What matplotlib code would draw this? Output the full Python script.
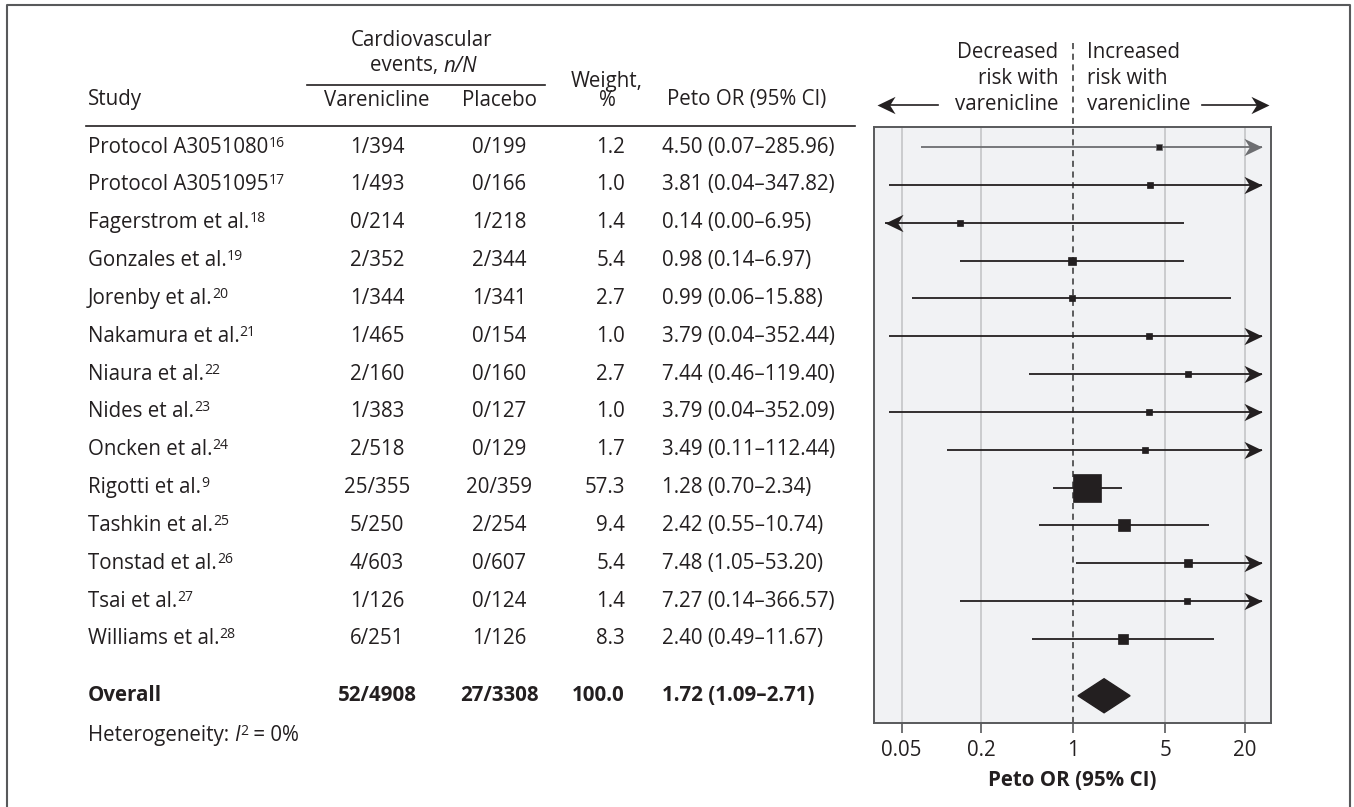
import numpy as np
import matplotlib.pyplot as plt
from matplotlib.patches import Polygon
from matplotlib.path import Path

plt.rcParams['font.family'] = ['Open Sans', 'DejaVu Sans']

# study rows
studies = ['Protocol A3051080', 'Protocol A3051095', 'Fagerstrom et al.', 'Gonzales et al.',
           'Jorenby et al.', 'Nakamura et al.', 'Niaura et al.', 'Nides et al.',
           'Oncken et al.', 'Rigotti et al.', 'Tashkin et al.', 'Tonstad et al.',
           'Tsai et al.', 'Williams et al.']
refs = ['16', '17', '18', '19', '20', '21', '22', '23', '24', '9', '25', '26', '27', '28']
var_events = ['1/394', '1/493', '0/214', '2/352', '1/344', '1/465', '2/160', '1/383',
              '2/518', '25/355', '5/250', '4/603', '1/126', '6/251']
pla_events = ['0/199', '0/166', '1/218', '2/344', '1/341', '0/154', '0/160', '0/127',
              '0/129', '20/359', '2/254', '0/607', '0/124', '1/126']
weights = [1.2, 1.0, 1.4, 5.4, 2.7, 1.0, 2.7, 1.0, 1.7, 57.3, 9.4, 5.4, 1.4, 8.3]
odds = [4.50, 3.81, 0.14, 0.98, 0.99, 3.79, 7.44, 3.79, 3.49, 1.28, 2.42, 7.48, 7.27, 2.40]
ci_lo = [0.07, 0.04, 0.00, 0.14, 0.06, 0.04, 0.46, 0.04, 0.11, 0.70, 0.55, 1.05, 0.14, 0.49]
ci_hi = [285.96, 347.82, 6.95, 6.97, 15.88, 352.44, 119.40, 352.09, 112.44, 2.34, 10.74,
         53.20, 366.57, 11.67]

# pooled result
overall_var = '52/4908'
overall_pla = '27/3308'
overall_weight = 100.0
overall_or = 1.72
overall_lo = 1.09
overall_hi = 2.71

xticks = [0.05, 0.2, 1, 5, 20]
xtick_labels = ['0.05', '0.2', '1', '5', '20']

W, H = 1354, 807
ink = '#231f20'
fs = 14.8

# stealth arrow heads with the tip at the origin
head_r = Path([(0, 0), (-1, 0.48), (-0.7, 0), (-1, -0.48), (0, 0)],
              [Path.MOVETO, Path.LINETO, Path.LINETO, Path.LINETO, Path.CLOSEPOLY])
head_l = Path([(0, 0), (1, 0.48), (0.7, 0), (1, -0.48), (0, 0)],
              [Path.MOVETO, Path.LINETO, Path.LINETO, Path.LINETO, Path.CLOSEPOLY])
head_ms = 26

fig = plt.figure(figsize=(W / 100, H / 100), dpi=100)
bg = fig.add_axes([0, 0, 1, 1])
bg.set_xlim(0, W)
bg.set_ylim(H, 0)
bg.axis('off')

ax = fig.add_axes([874 / W, 1 - 723 / H, 397 / W, 596 / H])
ax.set_xscale('log')
ax.set_xlim(10 ** -1.51, 10 ** 1.502)
ax.set_ylim(15.22, -0.53)
ax.set_facecolor('#f1f2f4')
for s in ax.spines.values():
    s.set_color('#58595b')
    s.set_linewidth(1.4)
ax.set_yticks([])
ax.set_xticks(xticks)
ax.set_xticklabels(xtick_labels)
ax.minorticks_off()
ax.tick_params(axis='x', length=7, width=1.2, color='#58595b', pad=5, labelsize=fs,
               labelcolor=ink)
ax.set_xlabel('Peto OR (95% CI)', fontsize=fs, fontweight='bold', color=ink, labelpad=7)

for g in xticks:
    if g != 1:
        ax.axvline(g, color='#c8c9cb', lw=1.3, zorder=0)
ax.axvline(1, color='#333333', lw=1.1, ls=(0, (4, 3)), zorder=1)

clip_lo, clip_hi = 10 ** -1.43, 10 ** 1.43

for i in range(len(studies)):
    col = '#6d6e71' if i == 0 else ink
    lo, hi = ci_lo[i], ci_hi[i]
    if hi > clip_hi:
        ax.plot([lo, clip_hi], [i, i], color=col, lw=1.3, solid_capstyle='butt')
        ax.plot(clip_hi, i, marker=head_r, ms=head_ms, color=col, mew=0, zorder=2)
    elif lo < clip_lo:
        ax.plot([clip_lo, hi], [i, i], color=col, lw=1.3, solid_capstyle='butt')
        ax.plot(clip_lo, i, marker=head_l, ms=head_ms, color=col, mew=0, zorder=2)
    else:
        ax.plot([lo, hi], [i, i], color=col, lw=1.3, solid_capstyle='butt')
    side_px = max(6.5, 3.7 * np.sqrt(weights[i]))
    ax.plot(odds[i], i, marker='s', ms=side_px * 0.72, color=ink, mec=col, mew=0.5,
            zorder=3)

y_over = len(studies) + 0.5
ax.add_patch(Polygon([(overall_lo, y_over), (overall_or, y_over - 0.45),
                      (overall_hi, y_over), (overall_or, y_over + 0.45)],
                     closed=True, color=ink, zorder=3))

renderer = fig.canvas.get_renderer()
inv = bg.transData.inverted()


def to_bg(x, y):
    return inv.transform(ax.transData.transform((x, y)))


def row_px(i):
    return to_bg(1, i)[1]


def rich(x, y, parts, ha='left', size=fs, weight='normal'):
    # parts: (text, style, fontsize scale, vertical offset px)
    objs = []
    cx = x
    for s, style, sc, dy in parts:
        t = bg.text(cx, y + dy, s, ha='left', va='center', fontsize=size * sc,
                    fontstyle=style, fontweight=weight, color=ink)
        cx += t.get_window_extent(renderer).width
        objs.append(t)
    total = cx - x
    shift = {'left': 0, 'center': -total / 2, 'right': -total}[ha]
    for t in objs:
        px, py = t.get_position()
        t.set_position((px + shift, py))
    return objs


def txt(x, y, s, ha='left', weight='normal'):
    bg.text(x, y, s, ha=ha, va='center', fontsize=fs, color=ink, fontweight=weight)


# outer frame
bg.plot([7, 7, 1350, 1350], [H, 5, 5, H], color='#58595b', lw=1.5)

# header
txt(421, 41, 'Cardiovascular', ha='center')
rich(423, 66, [('events, ', 'normal', 1, 0), ('n/N', 'italic', 1, 0)], ha='center')
bg.plot([307, 545], [85, 85], color=ink, lw=1.2)
txt(88, 100, 'Study')
txt(377, 100, 'Varenicline', ha='center')
txt(499, 100, 'Placebo', ha='center')
txt(607, 81, 'Weight,', ha='center')
txt(607, 100, '%', ha='center')
txt(667, 100, 'Peto OR (95% CI)')
bg.plot([86, 855], [126, 126], color=ink, lw=1.2)

x1 = to_bg(1, 0)[0]
bg.plot([x1, x1], [43, 127], color='#333333', lw=1.1, ls=(0, (4, 3)))
for k, (a, b) in enumerate([('Decreased', 'Increased'), ('risk with', 'risk with'),
                            ('varenicline', 'varenicline')]):
    yy = 52 + k * 26
    txt(x1 - 15, yy, a, ha='right')
    txt(x1 + 14, yy, b)
bg.plot([882, 938], [105, 105], color=ink, lw=1.2)
bg.plot(877, 105, marker=head_l, ms=head_ms, color=ink, mew=0)
bg.plot([1202, 1264], [105, 105], color=ink, lw=1.2)
bg.plot(1269, 105, marker=head_r, ms=head_ms, color=ink, mew=0)

# table rows
for i in range(len(studies)):
    y = row_px(i)
    rich(88, y, [(studies[i], 'normal', 1, 0), (refs[i], 'normal', 0.68, -4)])
    txt(377, y, var_events[i], ha='center')
    txt(499, y, pla_events[i], ha='center')
    txt(625, y, f'{weights[i]:.1f}', ha='right')
    txt(662, y, f'{odds[i]:.2f} ({ci_lo[i]:.2f}\u2013{ci_hi[i]:.2f})')

y = row_px(y_over)
txt(88, y, 'Overall', weight='bold')
txt(377, y, overall_var, ha='center', weight='bold')
txt(499, y, overall_pla, ha='center', weight='bold')
txt(625, y, f'{overall_weight:.1f}', ha='right', weight='bold')
txt(662, y, f'{overall_or:.2f} ({overall_lo:.2f}\u2013{overall_hi:.2f})', weight='bold')

rich(88, row_px(y_over + 1.05), [('Heterogeneity: ', 'normal', 1, 0), ('I', 'italic', 1, 0),
                                 ('2', 'normal', 0.68, -4), (' = 0%', 'normal', 1, 0)])

fig.savefig('out.png', dpi=100)
